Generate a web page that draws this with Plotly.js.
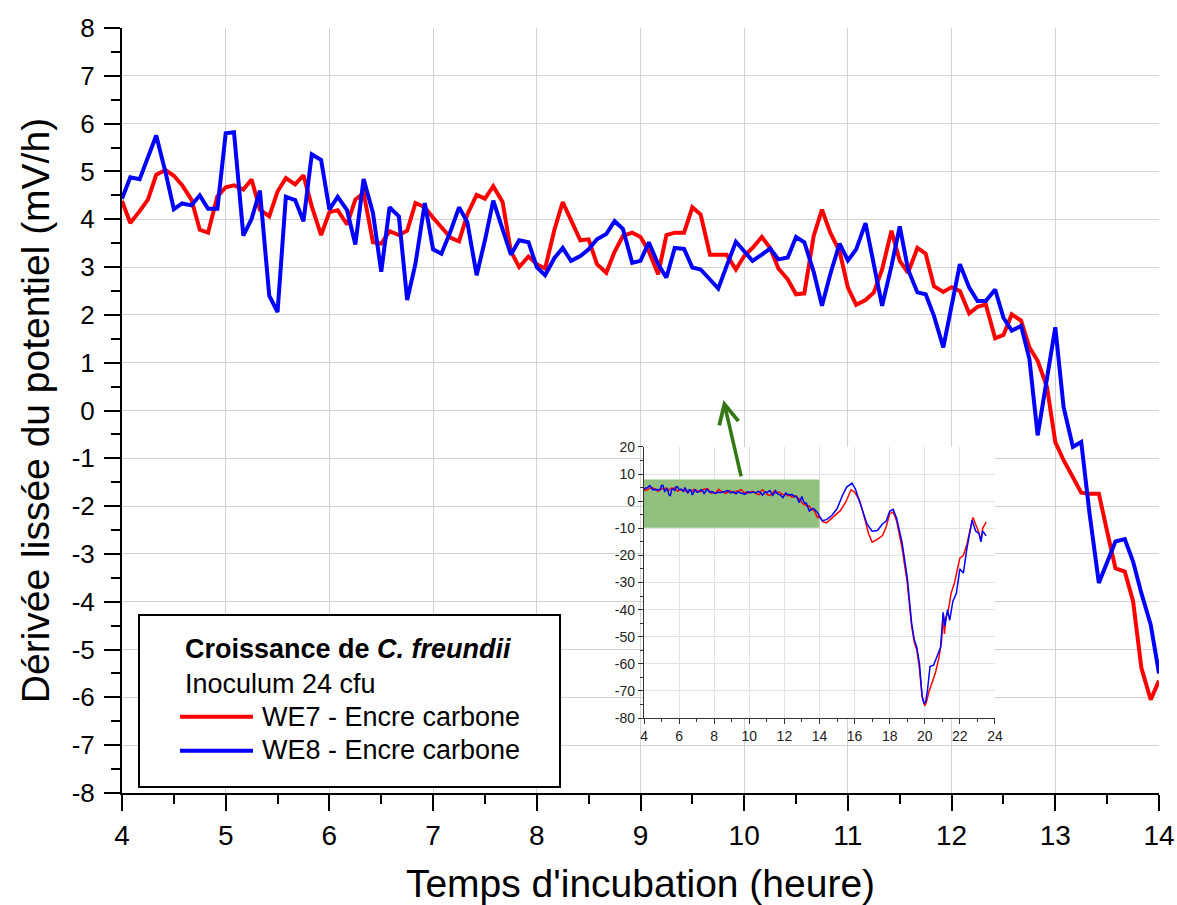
<!DOCTYPE html>
<html>
<head>
<meta charset="utf-8">
<script src="https://cdn.plot.ly/plotly-3.0.1.min.js"></script>
<style>html,body{margin:0;padding:0;background:#fff;}#chart{width:1177px;height:905px;}</style>
</head>
<body>
<div id="chart"></div>
<script>
// ---- main chart data (time in hours, derivative in mV/h) ----
const time = [
 4.00,4.08,4.17,4.25,4.33,4.42,4.50,4.58,4.67,4.75,4.83,4.92,
 5.00,5.08,5.17,5.25,5.33,5.42,5.50,5.58,5.67,5.75,5.83,5.92,
 6.00,6.08,6.17,6.25,6.33,6.42,6.50,6.58,6.67,6.75,6.83,6.92,
 7.00,7.08,7.17,7.25,7.33,7.42,7.50,7.58,7.67,7.75,7.83,7.92,
 8.00,8.08,8.17,8.25,8.33,8.42,8.50,8.58,8.67,8.75,8.83,8.92,
 9.00,9.08,9.17,9.25,9.33,9.42,9.50,9.58,9.67,9.75,9.83,9.92,
 10.00,10.08,10.17,10.25,10.33,10.42,10.50,10.58,10.67,10.75,10.83,10.92,
 11.00,11.08,11.17,11.25,11.33,11.42,11.50,11.58,11.67,11.75,11.83,11.92,
 12.00,12.08,12.17,12.25,12.33,12.42,12.50,12.58,12.67,12.75,12.83,12.92,
 13.00,13.08,13.17,13.25,13.33,13.42,13.50,13.58,13.67,13.75,13.83,13.92,
 14.00
];
const we7 = [
 4.38,3.92,4.17,4.41,4.93,5.03,4.91,4.71,4.41,3.78,3.72,4.48,
 4.67,4.71,4.62,4.83,4.20,4.06,4.58,4.86,4.73,4.92,4.27,3.67,
 4.15,4.19,3.89,4.41,4.55,3.52,3.49,3.75,3.67,3.76,4.34,4.25,
 4.03,3.82,3.61,3.54,4.10,4.51,4.43,4.69,4.36,3.33,3.00,3.22,
 3.06,2.97,3.78,4.36,3.96,3.56,3.58,3.06,2.88,3.32,3.65,3.72,
 3.63,3.33,2.85,3.67,3.72,3.72,4.25,4.10,3.26,3.26,3.26,2.95,
 3.23,3.40,3.63,3.40,2.97,2.74,2.43,2.45,3.65,4.20,3.72,3.33,
 2.57,2.21,2.31,2.47,2.95,3.76,3.13,2.88,3.40,3.28,2.60,2.48,
 2.58,2.50,2.03,2.17,2.22,1.51,1.58,2.01,1.88,1.32,1.04,0.49,
 -0.66,-1.04,-1.42,-1.72,-1.74,-1.74,-2.53,-3.30,-3.37,-3.99,-5.38,-6.05,
 -5.65
];
const we8 = [
 4.43,4.88,4.84,5.30,5.75,4.98,4.21,4.33,4.29,4.50,4.22,4.22,
 5.80,5.82,3.66,4.01,4.60,2.40,2.06,4.47,4.40,3.96,5.36,5.24,
 4.20,4.47,4.19,3.47,4.84,4.13,2.90,4.25,4.06,2.31,3.07,4.34,
 3.37,3.28,3.76,4.25,3.94,2.83,3.56,4.39,3.82,3.26,3.56,3.52,
 3.00,2.83,3.19,3.40,3.13,3.23,3.37,3.58,3.69,3.96,3.80,3.09,
 3.13,3.52,3.06,2.78,3.40,3.38,2.99,2.95,2.74,2.55,3.02,3.53,
 3.33,3.13,3.26,3.39,3.16,3.20,3.63,3.52,2.90,2.19,2.85,3.49,
 3.14,3.37,3.92,3.06,2.19,3.02,3.85,2.95,2.47,2.43,1.98,1.32,
 2.19,3.06,2.57,2.29,2.29,2.53,1.94,1.67,1.77,1.08,-0.52,0.63,
 1.74,0.07,-0.76,-0.66,-2.15,-3.61,-3.18,-2.74,-2.69,-3.16,-3.82,-4.48,
 -5.50
];

// ---- inset: continuation of the recordings after 14 h ----
const we7ExtTime = [14.2,14.4,14.8,15.2,15.5,15.8,16.0,16.3,16.5,16.8,17.0,17.3,17.6,17.8,18.0,18.2,18.4,18.7,19.0,19.25,19.4,19.55,19.7,19.85,20.0,20.1,20.25,20.4,20.6,20.8,20.95,21.05,21.12,21.2,21.35,21.5,21.7,21.9,22.0,22.2,22.4,22.6,22.75,22.9,23.05,23.2,23.3,23.5];
const we7ExtVal  = [-7.6,-8.0,-5.8,-3.4,-0.3,4.2,3.4,0.0,-4.6,-12.0,-15.1,-14.1,-12.6,-9.5,-4.6,-4.0,-7.4,-17.0,-30.0,-46.0,-52.0,-55.0,-62.0,-72.0,-75.5,-74.0,-70.0,-67.0,-63.5,-58.0,-52.0,-42.0,-49.0,-43.0,-40.0,-34.0,-30.0,-24.0,-21.0,-20.0,-16.0,-10.0,-6.0,-8.5,-11.0,-14.5,-10.0,-7.7];
const we8ExtTime = [14.15,14.4,14.7,15.0,15.3,15.55,15.85,16.05,16.3,16.5,16.7,17.0,17.3,17.6,17.8,18.0,18.2,18.4,18.7,19.0,19.25,19.4,19.55,19.7,19.85,19.95,20.05,20.15,20.3,20.5,20.7,20.9,21.05,21.15,21.3,21.42,21.6,21.8,22.0,22.2,22.4,22.7,22.9,23.1,23.2,23.3,23.5];
const we8ExtVal  = [-7.2,-6.8,-5.3,-2.8,2.0,5.2,6.7,4.5,-0.5,-4.6,-8.3,-11.1,-10.8,-8.3,-7.4,-3.7,-3.0,-6.4,-15.0,-28.0,-45.0,-51.0,-54.0,-60.0,-72.0,-74.5,-74.0,-70.0,-61.0,-60.5,-57.5,-54.0,-41.0,-46.0,-40.0,-44.0,-37.0,-34.0,-25.0,-26.5,-17.5,-7.0,-11.0,-12.0,-15.0,-11.0,-12.8];

// ---- tick labels (plain hyphen minus, as in the original) ----
const yTickVals = [-8,-7,-6,-5,-4,-3,-2,-1,0,1,2,3,4,5,6,7,8];
const yTickText = ['-8','-7','-6','-5','-4','-3','-2','-1','0','1','2','3','4','5','6','7','8'];
const insetYTickVals = [-80,-70,-60,-50,-40,-30,-20,-10,0,10,20];
const insetYTickText = ['-80','-70','-60','-50','-40','-30','-20','-10','0','10','20'];

// ---- texts ----
const legendTitle = '<b>Croissance de <i>C. freundii</i></b>';
const legendSub = 'Inoculum 24 cfu';
const seriesNames = ['WE7 - Encre carbone', 'WE8 - Encre carbone'];
const seriesColors = ['#ff0000', '#0000ff'];
const xTitle = "Temps d'incubation (heure)";
const yTitle = 'Dérivée lissée du potentiel (mV/h)';

const FONT = 'Liberation Sans, Arial, sans-serif';

const traces = [
  {x: time, y: we7, name: seriesNames[0], type: 'scatter', mode: 'lines',
   line: {color: seriesColors[0], width: 4}, xaxis: 'x', yaxis: 'y'},
  {x: time, y: we8, name: seriesNames[1], type: 'scatter', mode: 'lines',
   line: {color: seriesColors[1], width: 4}, xaxis: 'x', yaxis: 'y'},
  {x: time.concat(we7ExtTime), y: we7.concat(we7ExtVal), name: seriesNames[0] + ' (inset)',
   type: 'scatter', mode: 'lines', line: {color: seriesColors[0], width: 1.5}, xaxis: 'x4', yaxis: 'y4'},
  {x: time.concat(we8ExtTime), y: we8.concat(we8ExtVal), name: seriesNames[1] + ' (inset)',
   type: 'scatter', mode: 'lines', line: {color: seriesColors[1], width: 1.5}, xaxis: 'x4', yaxis: 'y4'}
];

const mainAx = {
  showline: true, linecolor: '#000', linewidth: 2, mirror: false,
  ticks: 'outside', tickcolor: '#000', tickwidth: 2, ticklen: 16,
  showgrid: true, gridcolor: '#d2d2d2', gridwidth: 1, zeroline: false
};
const insetAx = {
  showline: true, linecolor: '#333', linewidth: 1.2,
  ticks: 'outside', tickcolor: '#333', tickwidth: 1, ticklen: 5,
  showgrid: true, gridcolor: '#e2e2e2', gridwidth: 1, zeroline: false,
  tickfont: {family: FONT, size: 14, color: '#222'}
};

const layout = {
  width: 1177, height: 905,
  margin: {l: 122, r: 18, t: 28, b: 112},
  paper_bgcolor: '#fff', plot_bgcolor: '#fff',
  showlegend: false, hovermode: false,
  font: {family: FONT, color: '#000'},
  xaxis: Object.assign({}, mainAx, {
    domain: [0, 1], anchor: 'y', range: [4, 14], tick0: 4, dtick: 1,
    tickfont: {family: FONT, size: 28, color: '#000'},
    minor: {tickmode: 'linear', tick0: 4, dtick: 0.5, ticks: 'outside', ticklen: 9, tickwidth: 2, tickcolor: '#000', showgrid: false},
    title: {text: xTitle, font: {family: FONT, size: 39, color: '#000'}, standoff: 21}
  }),
  yaxis: Object.assign({}, mainAx, {
    domain: [0, 1], anchor: 'x', range: [-8, 8], tickmode: 'array', tickvals: yTickVals, ticktext: yTickText,
    tickfont: {family: FONT, size: 26, color: '#000'},
    minor: {tickmode: 'linear', tick0: 0, dtick: 0.5, ticks: 'outside', ticklen: 9, tickwidth: 2, tickcolor: '#000', showgrid: false},
    ticklabelstandoff: 4,
    title: {text: yTitle, font: {family: FONT, size: 39, color: '#000'}, standoff: 10}
  }),
  xaxis2: {overlaying: 'x', anchor: 'y', side: 'top', range: [4, 14], tick0: 4, dtick: 1,
    showline: true, linecolor: '#000', linewidth: 2, showgrid: false, zeroline: false,
    ticks: 'inside', ticklen: 16, tickwidth: 2, tickcolor: '#000', showticklabels: false,
    minor: {tickmode: 'linear', tick0: 4, dtick: 0.5, ticks: 'inside', ticklen: 9, tickwidth: 2, tickcolor: '#000', showgrid: false}},
  yaxis2: {overlaying: 'y', anchor: 'x', side: 'right', range: [-8, 8], tick0: 0, dtick: 1,
    showline: true, linecolor: '#000', linewidth: 2, showgrid: false, zeroline: false,
    ticks: 'inside', ticklen: 16, tickwidth: 2, tickcolor: '#000', showticklabels: false,
    minor: {tickmode: 'linear', tick0: 0, dtick: 0.5, ticks: 'inside', ticklen: 9, tickwidth: 2, tickcolor: '#000', showgrid: false}},
  // white backdrop behind the inset (hides the main grid)
  xaxis3: {domain: [0.4725, 0.8515], anchor: 'y3', range: [0, 1], visible: false, fixedrange: true},
  yaxis3: {domain: [0.0536, 0.4693], anchor: 'x3', range: [0, 1], visible: false, fixedrange: true},
  // inset
  xaxis4: Object.assign({}, insetAx, {
    domain: [0.5034, 0.8418], anchor: 'y4', range: [4, 24], tick0: 4, dtick: 2,
    minor: {tickmode: 'linear', tick0: 4, dtick: 1, ticks: 'outside', ticklen: 3, tickwidth: 1, tickcolor: '#333', showgrid: false},
    ticklabelstandoff: 0
  }),
  yaxis4: Object.assign({}, insetAx, {
    domain: [0.098, 0.4523], anchor: 'x4', range: [-80, 20],
    tickmode: 'array', tickvals: insetYTickVals, ticktext: insetYTickText,
    minor: {tickmode: 'linear', tick0: 0, dtick: 5, ticks: 'outside', ticklen: 3, tickwidth: 1, tickcolor: '#333', showgrid: false},
    ticklabelstandoff: 0
  }),
  xaxis5: {overlaying: 'x4', anchor: 'y4', side: 'top', range: [4, 24], tick0: 4, dtick: 2,
    showline: true, linecolor: '#333', linewidth: 1.2, showgrid: false, zeroline: false,
    ticks: 'inside', ticklen: 5, tickwidth: 1, tickcolor: '#333', showticklabels: false,
    minor: {tickmode: 'linear', tick0: 4, dtick: 1, ticks: 'inside', ticklen: 3, tickwidth: 1, tickcolor: '#333', showgrid: false}},
  yaxis5: {overlaying: 'y4', anchor: 'x4', side: 'right', range: [-80, 20], tick0: 0, dtick: 10,
    showline: true, linecolor: '#333', linewidth: 1.2, showgrid: false, zeroline: false,
    ticks: 'inside', ticklen: 5, tickwidth: 1, tickcolor: '#333', showticklabels: false,
    minor: {tickmode: 'linear', tick0: 0, dtick: 5, ticks: 'inside', ticklen: 3, tickwidth: 1, tickcolor: '#333', showgrid: false}},
  shapes: [
    // highlighted zone of the inset corresponding to the main chart
    {type: 'rect', xref: 'x4', yref: 'y4', x0: 4, x1: 14, y0: -9.8, y1: 8,
     fillcolor: 'rgb(146,192,126)', line: {width: 0}, layer: 'between'},
    // legend frame
    {type: 'rect', xref: 'paper', yref: 'paper', x0: 0.0164, x1: 0.4224, y0: 0.0078, y1: 0.2327,
     fillcolor: '#fff', line: {color: '#000', width: 2}, layer: 'above'},
    {type: 'line', xref: 'paper', yref: 'paper', x0: 0.0559, x1: 0.1263, y0: 0.0997, y1: 0.0997,
     line: {color: seriesColors[0], width: 4}, layer: 'above'},
    {type: 'line', xref: 'paper', yref: 'paper', x0: 0.0559, x1: 0.1263, y0: 0.0553, y1: 0.0553,
     line: {color: seriesColors[1], width: 4}, layer: 'above'}
  ],
  annotations: [
    {xref: 'paper', yref: 'paper', x: 0.0588, y: 0.1882, xanchor: 'left', yanchor: 'middle',
     text: legendTitle, showarrow: false, font: {family: FONT, size: 27, color: '#000'}},
    {xref: 'paper', yref: 'paper', x: 0.0588, y: 0.1425, xanchor: 'left', yanchor: 'middle',
     text: legendSub, showarrow: false, font: {family: FONT, size: 27, color: '#000'}},
    {xref: 'paper', yref: 'paper', x: 0.1331, y: 0.0993, xanchor: 'left', yanchor: 'middle',
     text: seriesNames[0], showarrow: false, font: {family: FONT, size: 27, color: '#000'}},
    {xref: 'paper', yref: 'paper', x: 0.1331, y: 0.0562, xanchor: 'left', yanchor: 'middle',
     text: seriesNames[1], showarrow: false, font: {family: FONT, size: 27, color: '#000'}},
    // green arrow from the zoomed zone to the main chart
    {xref: 'x', yref: 'y', x: 9.80, y: 0.22, text: '', showarrow: true,
     ax: 18, ay: 78, arrowhead: 5, arrowsize: 1.1, arrowwidth: 3.5,
     arrowcolor: 'rgb(52,120,22)', standoff: 0, startstandoff: 0}
  ]
};

Plotly.newPlot('chart', traces, layout, {staticPlot: true, displayModeBar: false});
</script>
</body>
</html>
